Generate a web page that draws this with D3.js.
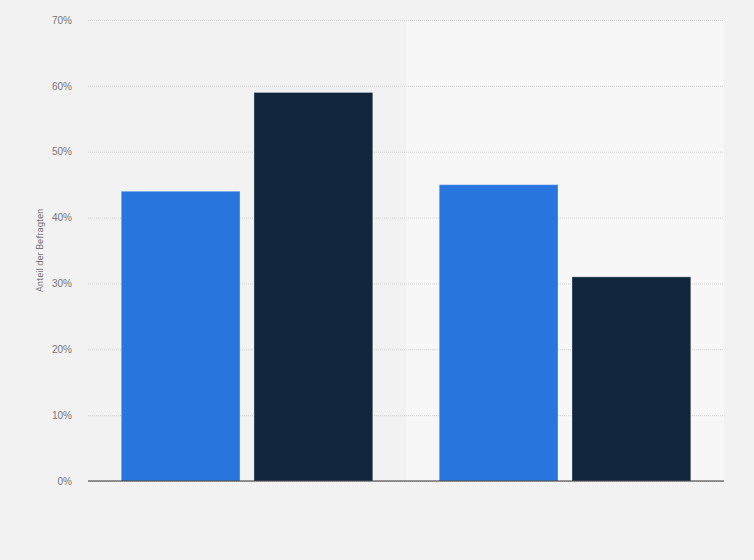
<!DOCTYPE html>
<html>
<head>
<meta charset="utf-8">
<script src="https://cdn.jsdelivr.net/npm/d3@7"></script>
<style>
  body { margin: 0; background: #f2f2f2; }
  svg { display: block; font-family: Roboto, "Open Sans", sans-serif; }
  .y.axis text { fill: #777; font-size: 10px; }
  .y.axis .domain { display: none; }
  .y.axis line { stroke: #d0d0d0; stroke-dasharray: 1,1; }
</style>
</head>
<body>
<div id="chart"></div>
<script>
// data
const groups = ['Gruppe 1', 'Gruppe 2'];
const seriesNames = ['Serie A', 'Serie B'];
const seriesA = [44, 45];
const seriesB = [59, 31];
const yTicks = [0, 10, 20, 30, 40, 50, 60, 70];
const colors = ['#2876dd', '#10263d'];

const width = 754;
const height = 560;
const margin = { left: 88, top: 20, right: 30, bottom: 79 };
const innerW = width - margin.left - margin.right;
const innerH = height - margin.top - margin.bottom;

const svg = d3.select('#chart').append('svg')
    .attr('width', width)
    .attr('height', height);

svg.append('rect')
    .attr('width', width)
    .attr('height', height)
    .attr('fill', '#f2f2f2');

const g = svg.append('g')
    .attr('transform', 'translate(' + margin.left + ',' + margin.top + ')');

const x0 = d3.scaleBand()
    .domain(groups)
    .range([0, innerW]);

const x1 = d3.scaleBand()
    .domain(seriesNames)
    .range([0, x0.bandwidth()])
    .paddingInner(0.105)
    .paddingOuter(0.25);

const yScale = d3.scaleLinear()
    .domain([0, 70])
    .range([innerH, 0]);

// alternating band background
g.selectAll('.band')
    .data(groups)
    .enter().append('rect')
    .attr('class', 'band')
    .attr('x', d => x0(d))
    .attr('y', 0)
    .attr('width', x0.bandwidth())
    .attr('height', innerH)
    .attr('fill', (d, i) => i % 2 ? '#f7f7f7' : 'none');

// y axis with gridlines
const yAxis = d3.axisLeft(yScale)
    .tickValues(yTicks)
    .tickSize(-innerW)
    .tickPadding(16)
    .tickFormat(d => d + '%');

g.append('g')
    .attr('class', 'y axis')
    .call(yAxis);

// bars
const rows = groups.map((gr, i) => ({
    group: gr,
    values: [
        { name: seriesNames[0], value: seriesA[i] },
        { name: seriesNames[1], value: seriesB[i] }
    ]
}));

const grp = g.selectAll('.grp')
    .data(rows)
    .enter().append('g')
    .attr('class', 'grp')
    .attr('transform', d => 'translate(' + x0(d.group) + ',0)');

grp.selectAll('rect')
    .data(d => d.values)
    .enter().append('rect')
    .attr('x', d => x1(d.name))
    .attr('y', d => yScale(d.value))
    .attr('width', x1.bandwidth())
    .attr('height', d => innerH - yScale(d.value))
    .attr('fill', (d, i) => colors[i])
    .attr('stroke', 'rgba(255,255,255,0.35)')
    .attr('stroke-width', 1);

// baseline
g.append('line')
    .attr('x1', 0)
    .attr('x2', innerW)
    .attr('y1', innerH)
    .attr('y2', innerH)
    .attr('stroke', '#333')
    .attr('stroke-width', 1.2);

// y axis title
svg.append('text')
    .attr('transform', 'translate(43,' + (margin.top + innerH / 2) + ') rotate(-90)')
    .attr('text-anchor', 'middle')
    .attr('fill', '#777')
    .attr('font-size', '9.5px')
    .text('Anteil der Befragten');
</script>
</body>
</html>
